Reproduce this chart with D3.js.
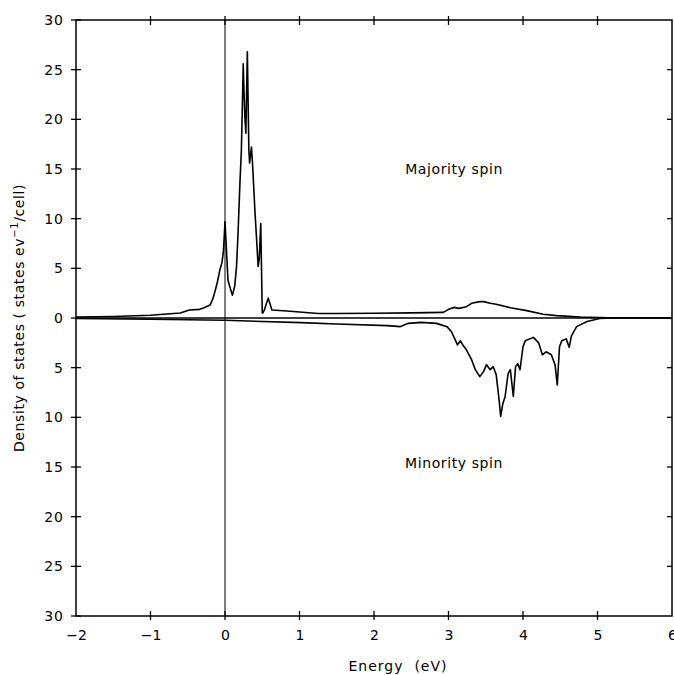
<!DOCTYPE html>
<html>
<head>
<meta charset="utf-8">
<script src="https://cdn.jsdelivr.net/npm/d3@7"></script>
<style>
  body { margin: 0; background: #fff; }
  text { font-family: "DejaVu Sans", sans-serif; fill: #000; }
</style>
</head>
<body>
<div id="chart"></div>
<script>
// majority spin DOS (energy in eV, states/eV/cell)
let majorityE = [-2, -1.5, -1, -0.6, -0.48, -0.34, -0.29, -0.2, -0.16, -0.13, -0.1, -0.07, -0.04, -0.02, 0.0, 0.04, 0.07, 0.1, 0.13, 0.155, 0.175, 0.2, 0.22, 0.245, 0.25, 0.265, 0.28, 0.3, 0.32, 0.33, 0.355, 0.37, 0.4, 0.425, 0.445, 0.46, 0.48, 0.5, 0.51, 0.53, 0.58, 0.63, 0.83, 1.0, 1.25, 1.5, 2.0, 2.5, 2.93, 3.0, 3.08, 3.14, 3.24, 3.31, 3.42, 3.47, 3.56, 3.64, 3.83, 4.05, 4.27, 4.45, 4.77, 5.15, 6];
let majorityDos = [0.1, 0.15, 0.28, 0.5, 0.8, 0.87, 1.0, 1.3, 2.0, 2.8, 3.7, 4.8, 5.6, 6.8, 9.7, 3.8, 3.0, 2.3, 3.2, 5.2, 8.5, 13.5, 16.9, 25.6, 24.0, 20.5, 18.6, 26.8, 17.0, 15.6, 17.2, 15.5, 11.0, 7.8, 5.2, 6.0, 9.5, 0.5, 0.5, 0.85, 2.0, 0.8, 0.7, 0.6, 0.45, 0.45, 0.48, 0.52, 0.57, 0.87, 1.07, 0.97, 1.14, 1.48, 1.65, 1.65, 1.48, 1.38, 1.04, 0.74, 0.37, 0.24, 0.1, 0.02, 0];

// minority spin DOS, plotted downwards
let minorityE = [-2, -1, 0, 1.02, 1.5, 2.18, 2.35, 2.46, 2.63, 2.84, 2.98, 3.04, 3.09, 3.12, 3.16, 3.2, 3.24, 3.31, 3.36, 3.42, 3.47, 3.51, 3.56, 3.6, 3.64, 3.68, 3.7, 3.73, 3.76, 3.8, 3.83, 3.87, 3.9, 3.93, 3.96, 4.0, 4.03, 4.14, 4.21, 4.26, 4.31, 4.38, 4.43, 4.46, 4.49, 4.52, 4.58, 4.62, 4.65, 4.72, 4.86, 5.03, 5.2, 6];
let minorityDos = [0.05, 0.12, 0.23, 0.47, 0.6, 0.77, 0.87, 0.54, 0.44, 0.54, 0.87, 1.38, 2.2, 2.7, 2.3, 2.8, 3.2, 4.2, 5.2, 5.9, 5.4, 4.7, 5.2, 4.9, 5.7, 8.3, 9.9, 8.6, 7.9, 5.6, 5.2, 7.9, 4.9, 4.6, 5.2, 2.9, 2.3, 1.95, 2.5, 3.7, 3.4, 3.7, 4.7, 6.75, 2.9, 2.3, 2.1, 2.95, 1.8, 0.87, 0.36, 0.05, 0, 0];

let xTicks = [-2, -1, 0, 1, 2, 3, 4, 5, 6];
let yTicks = [-30, -25, -20, -15, -10, -5, 0, 5, 10, 15, 20, 25, 30];
let spinLabels = ["Majority spin", "Minority spin"];

let width = 674;
let height = 675;
let plotLeft = 76, plotRight = 672, plotTop = 20, plotBottom = 616;

let svg = d3.select("#chart").append("svg")
  .attr("width", width)
  .attr("height", height);

let x = d3.scaleLinear().domain([-2, 6]).range([plotLeft, plotRight]);
let y = d3.scaleLinear().domain([-30, 30]).range([plotBottom, plotTop]);

// frame
svg.append("rect")
  .attr("x", plotLeft).attr("y", plotTop)
  .attr("width", plotRight - plotLeft).attr("height", plotBottom - plotTop)
  .attr("fill", "none").attr("stroke", "#000").attr("stroke-width", 1.5);

// zero lines
svg.append("line")
  .attr("x1", plotLeft).attr("x2", plotRight)
  .attr("y1", y(0)).attr("y2", y(0))
  .attr("stroke", "#000").attr("stroke-width", 1.3);
svg.append("line")
  .attr("x1", x(0)).attr("x2", x(0))
  .attr("y1", plotTop).attr("y2", plotBottom)
  .attr("stroke", "#000").attr("stroke-width", 1);

// bottom axis labels (the last one is clipped by the page edge, as in the original)
let xAxis = svg.append("g")
  .attr("transform", `translate(0,${plotBottom})`)
  .call(d3.axisBottom(x).tickValues(xTicks).tickSize(0).tickPadding(14)
    .tickFormat(d => d < 0 ? "\u2212" + Math.abs(d) : d));
xAxis.select(".domain").remove();
xAxis.selectAll("text")
  .style("font-family", "DejaVu Sans, sans-serif")
  .style("font-size", "14px");

// tick marks crossing the frame
let tickMarks = svg.append("g")
  .attr("stroke", "#000").attr("stroke-width", 1.3);

tickMarks.selectAll("line.xb")
  .data(xTicks.slice(1, -1))
  .join("line").classed("xb", true)
  .attr("x1", d => x(d)).attr("x2", d => x(d))
  .attr("y1", plotBottom - 5).attr("y2", plotBottom + 4);
tickMarks.selectAll("line.xt")
  .data(xTicks.slice(1, -1))
  .join("line").classed("xt", true)
  .attr("x1", d => x(d)).attr("x2", d => x(d))
  .attr("y1", plotTop - 4).attr("y2", plotTop + 5);

// left axis labels
let yAxis = svg.append("g")
  .attr("transform", `translate(${plotLeft},0)`)
  .call(d3.axisLeft(y).tickValues(yTicks).tickSize(0).tickPadding(12)
    .tickFormat(d => Math.abs(d)));
yAxis.select(".domain").remove();
yAxis.selectAll("text")
  .style("font-family", "DejaVu Sans, sans-serif")
  .style("font-size", "14px")
  .style("letter-spacing", "1px");

tickMarks.selectAll("line.yl")
  .data(yTicks)
  .join("line").classed("yl", true)
  .attr("x1", plotLeft - 5).attr("x2", plotLeft + 5)
  .attr("y1", d => y(d)).attr("y2", d => y(d));
tickMarks.selectAll("line.yr")
  .data(yTicks.slice(1, -1))
  .join("line").classed("yr", true)
  .attr("x1", plotRight - 5).attr("x2", plotRight)
  .attr("y1", d => y(d)).attr("y2", d => y(d));

// curves
let majority = majorityE.map((e, i) => [e, majorityDos[i]]);
let minority = minorityE.map((e, i) => [e, -minorityDos[i]]);
let line = d3.line()
  .x(d => x(d[0]))
  .y(d => y(d[1]));

svg.append("path")
  .datum(majority)
  .attr("d", line)
  .attr("fill", "none").attr("stroke", "#000").attr("stroke-width", 1.6)
  .attr("stroke-linejoin", "round");
svg.append("path")
  .datum(minority)
  .attr("d", line)
  .attr("fill", "none").attr("stroke", "#000").attr("stroke-width", 1.6)
  .attr("stroke-linejoin", "round");

// labels
svg.selectAll("text.spin")
  .data(spinLabels)
  .join("text").classed("spin", true)
  .attr("x", 454)
  .attr("y", (d, i) => i === 0 ? y(15) : y(-14.6))
  .attr("dy", "0.35em")
  .attr("text-anchor", "middle")
  .style("font-size", "14px")
  .style("letter-spacing", "0.6px")
  .text(d => d);

svg.append("text")
  .attr("x", 398)
  .attr("y", 666)
  .attr("dy", "0.35em")
  .attr("text-anchor", "middle")
  .style("font-size", "14px")
  .style("letter-spacing", "1px")
  .style("white-space", "pre")
  .text("Energy  (eV)");

let yLabel = svg.append("text")
  .attr("transform", `translate(19,${y(0)}) rotate(-90)`)
  .attr("dy", "0.35em")
  .attr("text-anchor", "middle")
  .style("font-size", "14px")
  .style("letter-spacing", "0.6px");
yLabel.append("tspan").text("Density of states ( states ev");
yLabel.append("tspan").attr("dy", "-6").style("font-size", "10px").text("\u22121");
yLabel.append("tspan").attr("dy", "6").text("/cell)");
</script>
</body>
</html>
